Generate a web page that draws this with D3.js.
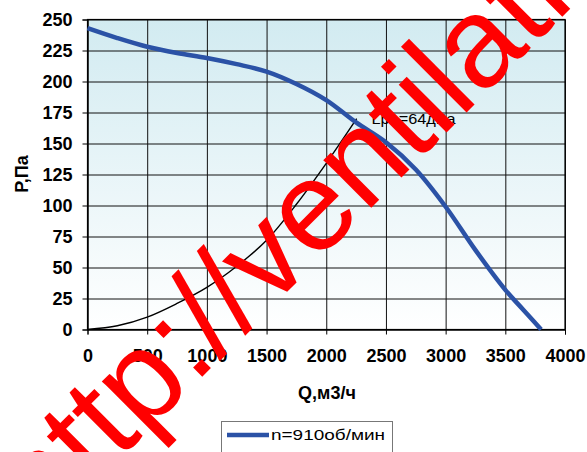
<!DOCTYPE html>
<html>
<head>
<meta charset="utf-8">
<script src="https://cdn.jsdelivr.net/npm/d3@7"></script>
<style>
  body { margin: 0; background: #fff; }
  svg { display: block; font-family: 'Liberation Sans', Arial, sans-serif; }
</style>
</head>
<body>
<div id="chart"></div>
<script>
// fan curve
const fanQ = [0, 250, 500, 750, 1000, 1250, 1500, 1750, 2000, 2250, 2500, 2750, 3000, 3250, 3500, 3650, 3800];
const fanP = [243, 235, 228, 223, 219, 214, 208, 198, 185, 167, 151, 129, 99, 64, 32, 16, 0];

// network (system) curve
const netQ = [0, 250, 500, 750, 1000, 1250, 1500, 1750, 2000, 2255];
const netP = [0, 3, 10, 21, 34, 51, 72, 101, 134, 170];

const xTicks = [0, 500, 1000, 1500, 2000, 2500, 3000, 3500, 4000];
const yTicks = [0, 25, 50, 75, 100, 125, 150, 175, 200, 225, 250];

const seriesName = 'n=910об/мин';
const noiseLabel = 'Lpa=64дБа';
const watermark = 'http://ventilati';

const W = 587, H = 452;
const margins = { top: 19.5, right: 22, bottom: 122.5, left: 87.5 };

const svg = d3.select('#chart').append('svg')
  .attr('width', W)
  .attr('height', H);

const x = d3.scaleLinear().domain([0, 4000]).range([margins.left, W - margins.right]);
const y = d3.scaleLinear().domain([0, 250]).range([H - margins.bottom, margins.top]);
const fmt = d3.format('d');

// plot background
const grad = svg.append('defs').append('linearGradient')
  .attr('id', 'bg')
  .attr('x1', 0).attr('y1', 0).attr('x2', 0).attr('y2', 1);
grad.append('stop').attr('offset', '0%').attr('stop-color', '#d2ebf1');
grad.append('stop').attr('offset', '100%').attr('stop-color', '#ffffff');

svg.append('rect')
  .attr('x', x(0)).attr('y', y(250))
  .attr('width', x(4000) - x(0))
  .attr('height', y(0) - y(250))
  .attr('fill', 'url(#bg)');

// grid
svg.append('g')
  .attr('transform', `translate(0,${y(0)})`)
  .call(d3.axisBottom(x).tickValues(xTicks).tickSize(-(y(0) - y(250))).tickFormat(''))
  .call(g => g.select('.domain').remove())
  .call(g => g.selectAll('line').attr('stroke', '#111'));

svg.append('g')
  .attr('transform', `translate(${x(0)},0)`)
  .call(d3.axisLeft(y).tickValues(yTicks).tickSize(-(x(4000) - x(0))).tickFormat(''))
  .call(g => g.select('.domain').remove())
  .call(g => g.selectAll('line').attr('stroke', '#111'));

// frame
svg.append('rect')
  .attr('x', x(0)).attr('y', y(250))
  .attr('width', x(4000) - x(0))
  .attr('height', y(0) - y(250))
  .attr('fill', 'none')
  .attr('stroke', '#000')
  .attr('stroke-width', 1.2);

// axes
svg.append('g')
  .attr('transform', `translate(${x(0)},0)`)
  .call(d3.axisLeft(y).tickValues(yTicks).tickFormat(fmt).tickSize(5).tickPadding(10))
  .call(g => g.select('.domain').attr('stroke', '#000'))
  .call(g => g.selectAll('text')
    .attr('font-size', 18)
    .attr('font-weight', 'bold')
    .attr('fill', '#000'));

svg.append('g')
  .attr('transform', `translate(0,${y(0)})`)
  .call(d3.axisBottom(x).tickValues(xTicks).tickFormat(fmt).tickSize(5).tickPadding(15))
  .call(g => g.select('.domain').attr('stroke', '#000'))
  .call(g => g.selectAll('text')
    .attr('font-size', 18)
    .attr('font-weight', 'bold')
    .attr('fill', '#000'));

svg.selectAll('.tick text').attr('font-family', "'Liberation Sans', Arial, sans-serif");

// axis titles
svg.append('text')
  .attr('x', 327)
  .attr('y', 399)
  .attr('text-anchor', 'middle')
  .attr('font-size', 18)
  .attr('font-weight', 'bold')
  .text('Q,м3/ч');

svg.append('text')
  .attr('transform', 'translate(28,174) rotate(-90)')
  .attr('text-anchor', 'middle')
  .attr('font-size', 18)
  .attr('font-weight', 'bold')
  .text('P,Па');

// curves
const line = d3.line()
  .x(d => x(d[0]))
  .y(d => y(d[1]))
  .curve(d3.curveCatmullRom);

svg.append('path')
  .datum(d3.zip(netQ, netP))
  .attr('fill', 'none')
  .attr('stroke', '#000')
  .attr('stroke-width', 1.4)
  .attr('d', line);

svg.append('path')
  .datum(d3.zip(fanQ, fanP))
  .attr('fill', 'none')
  .attr('stroke', '#2b52a6')
  .attr('stroke-width', 4.5)
  .attr('d', line);

svg.append('text')
  .attr('x', 371.5)
  .attr('y', 124)
  .attr('font-size', 14)
  .attr('textLength', 84)
  .attr('lengthAdjust', 'spacingAndGlyphs')
  .text(noiseLabel);

// legend
const legend = svg.append('g').attr('class', 'legend');
legend.append('rect')
  .attr('x', 221.5).attr('y', 421.5)
  .attr('width', 171).attr('height', 40)
  .attr('fill', '#fff')
  .attr('stroke', '#777');
legend.append('line')
  .attr('x1', 227).attr('x2', 269)
  .attr('y1', 435).attr('y2', 435)
  .attr('stroke', '#2b52a6')
  .attr('stroke-width', 4.5);
legend.append('text')
  .attr('x', 271)
  .attr('y', 440)
  .attr('font-size', 15)
  .attr('textLength', 114)
  .attr('lengthAdjust', 'spacingAndGlyphs')
  .text(seriesName);

// watermark on top
svg.append('text')
  .attr('transform', 'translate(43,536) rotate(-45)')
  .attr('font-size', 128)
  .attr('fill', '#ff0000')
  .text(watermark);
</script>
</body>
</html>
